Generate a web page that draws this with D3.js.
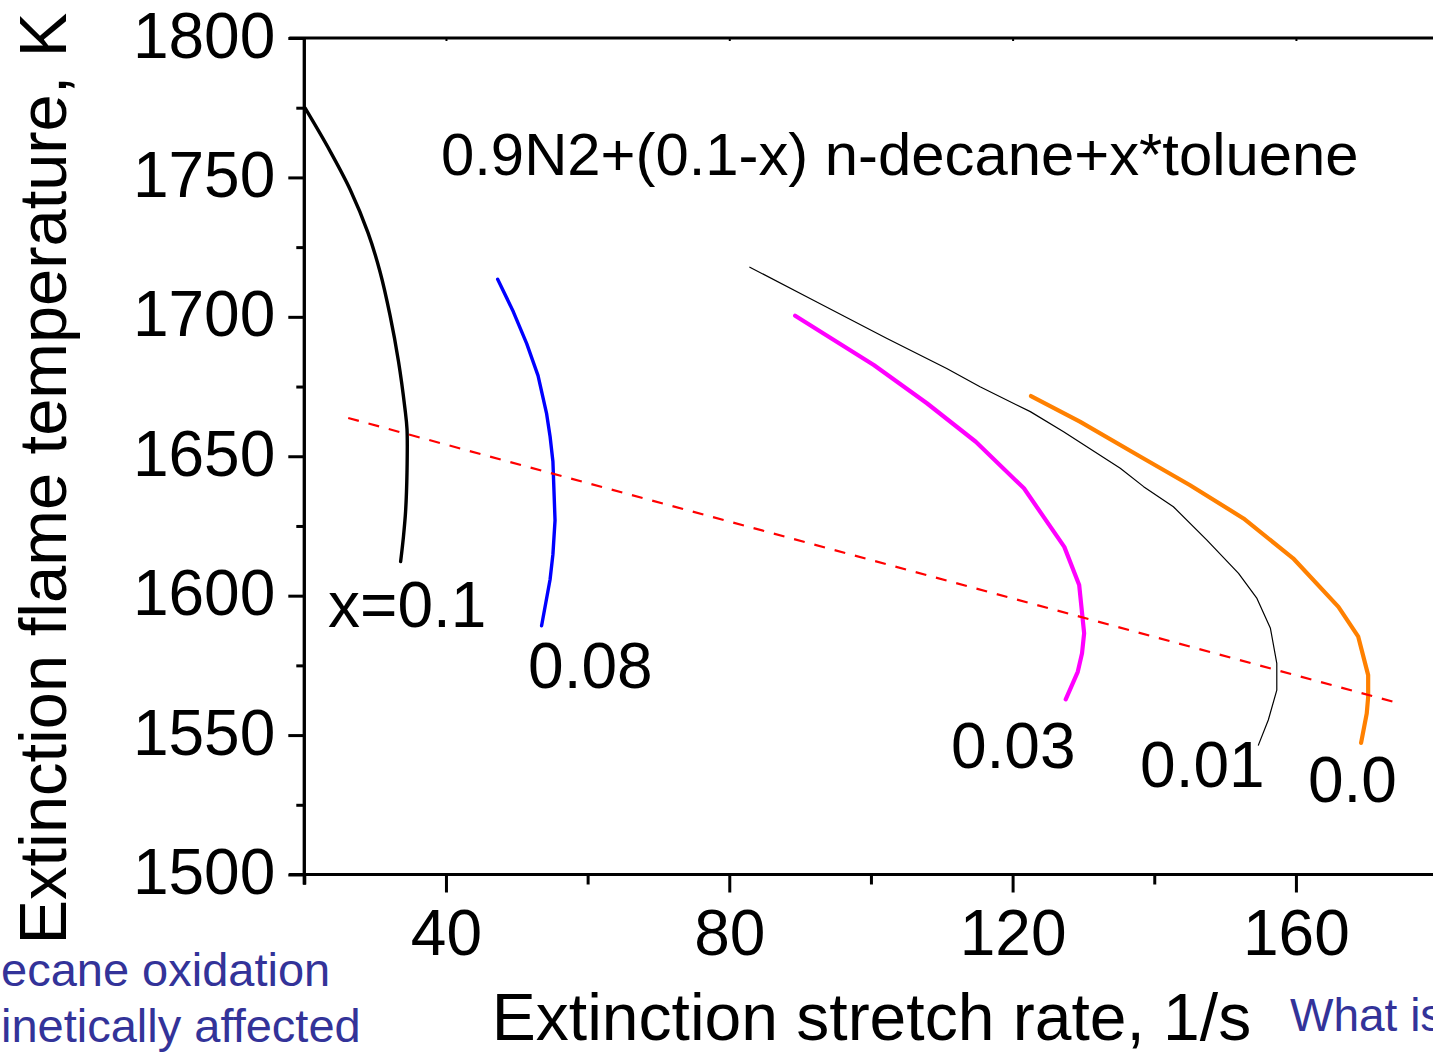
<!DOCTYPE html>
<html>
<head>
<meta charset="utf-8">
<script src="https://cdn.jsdelivr.net/npm/d3@7"></script>
<style>
  html, body { margin: 0; padding: 0; background: #fff; overflow: hidden; }
  svg { display: block; }
  text { font-family: "Liberation Sans", Arial, sans-serif; }
</style>
</head>
<body>
<svg id="chart" width="1433" height="1052"></svg>
<script>
// Extinction stretch rate (1/s) and extinction flame temperature (K) per toluene fraction x
const rateX010 = [20.1, 23.6, 26.5, 29.0, 30.7, 32.1, 33.3, 34.2, 34.5, 34.5, 34.3, 34.0, 33.6];
const tempX010 = [1774.9, 1759.6, 1745.5, 1730.1, 1716.1, 1700.6, 1684.0, 1667.3, 1659.7, 1644.3, 1630.2, 1621.2, 1612.2];

const rateX008 = [47.3, 49.5, 51.4, 53.0, 54.2, 54.7, 55.1, 55.4, 55.1, 54.7, 53.5];
const tempX008 = [1713.5, 1701.9, 1690.4, 1678.9, 1665.4, 1657.1, 1648.1, 1627.0, 1614.8, 1605.8, 1589.2];

const rateX003 = [89.3, 100.4, 107.9, 114.8, 121.6, 127.3, 129.4, 130.1, 129.8, 129.2, 127.5];
const tempX003 = [1700.4, 1682.7, 1669.0, 1655.2, 1638.5, 1617.5, 1603.8, 1586.5, 1579.3, 1572.7, 1562.8];

const rateX001 = [82.9, 91.4, 102.2, 110.7, 115.4, 122.5, 127.2, 135.2, 138.5, 142.7, 147.4, 151.9, 154.5, 156.4, 157.3, 157.3, 156.1, 154.7];
const tempX001 = [1717.8, 1706.6, 1692.3, 1681.5, 1674.9, 1666.0, 1658.8, 1645.7, 1639.1, 1631.9, 1620.0, 1608.0, 1599.0, 1588.3, 1575.7, 1566.1, 1555.4, 1546.4];

const rateX000 = [122.6, 129.5, 138.0, 145.0, 152.6, 159.6, 166.0, 168.8, 170.2, 170.2, 170.0, 169.2];
const tempX000 = [1671.6, 1662.4, 1649.9, 1639.7, 1627.7, 1613.4, 1596.0, 1585.3, 1571.5, 1563.7, 1557.8, 1547.2];

// Dashed boundary line (two end points)
const boundaryRate = [26.2, 173.8];
const boundaryTemp = [1663.7, 1561.9];

// Curve labels: text, anchor rate, anchor temperature (text baseline start)
const labelText = ["x=0.1", "0.08", "0.03", "0.01", "0.0"];
const labelRate = [23.35, 51.6, 111.3, 138.0, 161.7];
const labelTemp = [1588.8, 1566.9, 1538.2, 1531.4, 1526.0];

// Axis ticks
const xMajorTicks = [40, 80, 120, 160];
const xMinorTicks = [20, 60, 100, 140, 180];
const yMajorTicks = [1500, 1550, 1600, 1650, 1700, 1750, 1800];
const yMinorTicks = [1525, 1575, 1625, 1675, 1725, 1775];

const title = "0.9N2+(0.1-x) n-decane+x*toluene";
const xTitle = "Extinction stretch rate, 1/s";
const yTitle = "Extinction flame temperature, K";
const noteLines = ["ecane oxidation", "inetically affected"];
const noteRight = "What is";

const svg = d3.select("#chart");

const plotLeft = 304.3, plotTop = 38, plotBottom = 874.5;
const x = d3.scaleLinear().domain([20, 180]).range([plotLeft, plotLeft + 160 * 7.083]);
const y = d3.scaleLinear().domain([1500, 1800]).range([plotBottom, plotTop]);

const axisColor = "#000";
const axisW = 3;

// Curves
const series = [
  { rx: rateX010, ty: tempX010, color: "#000000", w: 3.4, curve: d3.curveCatmullRom },
  { rx: rateX008, ty: tempX008, color: "#0000ff", w: 3.4, curve: d3.curveLinear },
  { rx: rateX003, ty: tempX003, color: "#ff00ff", w: 4.2, curve: d3.curveLinear },
  { rx: rateX001, ty: tempX001, color: "#000000", w: 1.2, curve: d3.curveLinear },
  { rx: rateX000, ty: tempX000, color: "#ff8000", w: 4.2, curve: d3.curveLinear }
];

series.forEach(s => {
  const pts = s.rx.map((v, i) => [v, s.ty[i]]);
  svg.append("path")
    .datum(pts)
    .attr("fill", "none")
    .attr("stroke", s.color)
    .attr("stroke-width", s.w)
    .attr("stroke-linejoin", "round")
    .attr("stroke-linecap", "round")
    .attr("d", d3.line().x(d => x(d[0])).y(d => y(d[1])).curve(s.curve));
});

// Dashed boundary
svg.append("path")
  .datum(boundaryRate.map((v, i) => [v, boundaryTemp[i]]))
  .attr("fill", "none")
  .attr("stroke", "#ff0000")
  .attr("stroke-width", 2.2)
  .attr("stroke-dasharray", "11,10")
  .attr("d", d3.line().x(d => x(d[0])).y(d => y(d[1])));

// Bottom axis
const gx = svg.append("g").attr("transform", `translate(0,${plotBottom})`);
gx.call(d3.axisBottom(x).tickValues(xMajorTicks).tickSize(18).tickSizeOuter(0).tickFormat(d3.format("d")));
gx.append("g").call(d3.axisBottom(x).tickValues(xMinorTicks).tickSize(10).tickSizeOuter(0).tickFormat(""));
gx.selectAll("path.domain").attr("stroke", axisColor).attr("stroke-width", axisW)
  .attr("d", `M${plotLeft - 15},0H${x(180)}`);
gx.selectAll(".tick line").attr("stroke", axisColor).attr("stroke-width", axisW);
gx.selectAll(".tick text")
  .attr("fill", "#000")
  .attr("font-size", 64)
  .attr("font-family", "Liberation Sans, Arial, sans-serif")
  .attr("y", 0)
  .attr("dy", 80);

// Left axis
const gy = svg.append("g").attr("transform", `translate(${plotLeft},0)`);
gy.call(d3.axisLeft(y).tickValues(yMajorTicks).tickSize(16).tickSizeOuter(0).tickFormat(d3.format("d")));
gy.append("g").call(d3.axisLeft(y).tickValues(yMinorTicks).tickSize(8).tickSizeOuter(0).tickFormat(""));
gy.selectAll("path.domain").attr("stroke", axisColor).attr("stroke-width", axisW)
  .attr("d", `M0,${plotTop}V${plotBottom + 10}`);
gy.selectAll(".tick line").attr("stroke", axisColor).attr("stroke-width", axisW);
gy.selectAll(".tick text")
  .attr("fill", "#000")
  .attr("font-size", 64)
  .attr("font-family", "Liberation Sans, Arial, sans-serif")
  .attr("x", -29)
  .attr("dy", 19);

// Top axis (frame) with short inward ticks
const gt = svg.append("g").attr("transform", `translate(0,${plotTop})`);
gt.call(d3.axisTop(x).tickValues(xMajorTicks).tickSize(-3).tickSizeOuter(0).tickFormat(""));
gt.selectAll("path.domain").attr("stroke", axisColor).attr("stroke-width", axisW)
  .attr("d", `M${plotLeft - 15},0H${x(180)}`);
gt.selectAll(".tick line").attr("stroke", axisColor).attr("stroke-width", 2);

// Right axis (frame)
svg.append("line")
  .attr("x1", x(180)).attr("x2", x(180))
  .attr("y1", plotTop).attr("y2", plotBottom)
  .attr("stroke", axisColor).attr("stroke-width", axisW);

// Title inside plot
svg.append("text")
  .attr("x", 441).attr("y", 175)
  .attr("font-size", 59.8)
  .attr("fill", "#000")
  .text(title);

// Curve labels
labelText.forEach((t, i) => {
  svg.append("text")
    .attr("x", x(labelRate[i]))
    .attr("y", y(labelTemp[i]))
    .attr("font-size", 64)
    .attr("fill", "#000")
    .text(t);
});

// Axis titles
svg.append("text")
  .attr("x", 871.5).attr("y", 1040)
  .attr("text-anchor", "middle")
  .attr("font-size", 66)
  .attr("fill", "#000")
  .text(xTitle);

svg.append("text")
  .attr("transform", "translate(66,478.5) rotate(-90)")
  .attr("text-anchor", "middle")
  .attr("font-size", 66.8)
  .attr("fill", "#000")
  .text(yTitle);

// Notes
svg.append("text")
  .attr("x", 1).attr("y", 986)
  .attr("font-size", 47)
  .attr("fill", "#333399")
  .text(noteLines[0]);
svg.append("text")
  .attr("x", 1).attr("y", 1042)
  .attr("font-size", 47)
  .attr("fill", "#333399")
  .text(noteLines[1]);
svg.append("text")
  .attr("x", 1290).attr("y", 1031)
  .attr("font-size", 46)
  .attr("fill", "#333399")
  .text(noteRight);
</script>
</body>
</html>
